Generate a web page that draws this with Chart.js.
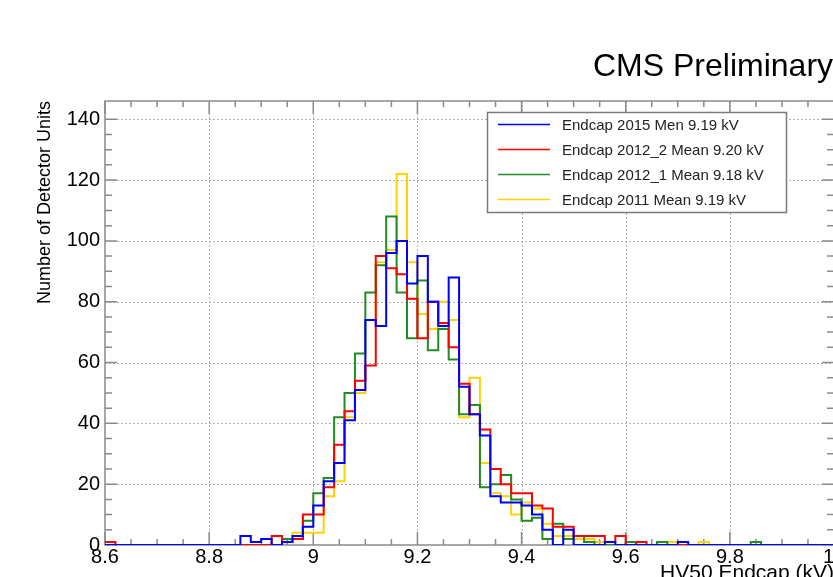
<!DOCTYPE html>
<html>
<head>
<meta charset="utf-8">
<title>HV50 Endcap</title>
<script src="https://cdn.jsdelivr.net/npm/chart.js@4.4.1/dist/chart.umd.min.js"></script>
<style>
    html, body { margin: 0; padding: 0; background: #fff; overflow: hidden; }
    #wrap { width: 833px; height: 577px; overflow: hidden; }
</style>
</head>
<body>
<div id="wrap"><canvas id="hvChart" width="900" height="600"></canvas></div>
<script>
// Binning of the histogram (kV)
const binStart = 8.6;
const binWidth = 0.02;
const binCount = 70;

// Series labels and colours
const seriesLabels = [
    'Endcap 2015 Men 9.19 kV',
    'Endcap 2012_2 Mean 9.20 kV',
    'Endcap 2012_1 Mean 9.18 kV',
    'Endcap 2011 Mean 9.19 kV'
];
const seriesColors = ['#0000ff', '#ff0000', '#228b22', '#ffd200'];

// Counts per bin, 8.60 ... 9.98
const endcap2015 = [
    0, 0, 0, 0, 0, 0, 0, 0, 0, 0, 0, 0, 0, 3, 1, 2, 0, 1, 3, 6,
    13, 21, 27, 41, 51, 74, 72, 96, 100, 86, 95, 80, 72, 88, 52, 43, 36, 16, 14, 14,
    13, 10, 5, 0, 5, 0, 0, 0, 1, 0, 0, 0, 0, 0, 0, 1, 0, 0, 0, 0,
    0, 0, 0, 0, 0, 0, 0, 0, 0, 0
];
const endcap2012b = [
    1, 0, 0, 0, 0, 0, 0, 0, 0, 0, 0, 0, 0, 0, 0, 0, 3, 1, 2, 10,
    10, 19, 33, 44, 54, 59, 95, 91, 89, 81, 68, 80, 73, 65, 53, 43, 38, 25, 20, 17,
    17, 13, 12, 6, 6, 3, 3, 3, 1, 3, 0, 1, 0, 0, 0, 0, 0, 0, 0, 0,
    0, 0, 0, 0, 0, 0, 0, 0, 0, 0
];
const endcap2012a = [
    0, 0, 0, 0, 0, 0, 0, 0, 0, 0, 0, 0, 0, 0, 0, 0, 0, 2, 2, 8,
    17, 22, 42, 50, 63, 83, 92, 108, 83, 68, 87, 64, 71, 61, 43, 46, 19, 20, 23, 15,
    8, 9, 2, 7, 2, 3, 1, 0, 0, 0, 1, 0, 0, 1, 0, 0, 0, 0, 0, 0,
    0, 0, 1, 0, 0, 0, 0, 0, 0, 0
];
const endcap2011 = [
    0, 0, 0, 0, 0, 0, 0, 0, 0, 0, 0, 0, 0, 0, 0, 0, 0, 2, 4, 4,
    4, 16, 21, 42, 50, 74, 93, 97, 122, 93, 76, 71, 80, 74, 42, 55, 27, 17, 16, 10,
    14, 12, 7, 3, 3, 2, 2, 1, 0, 0, 0, 0, 0, 0, 1, 0, 0, 1, 0, 0,
    0, 0, 0, 0, 0, 0, 0, 0, 0, 0
];
const seriesValues = [endcap2015, endcap2012b, endcap2012a, endcap2011];

// Axis ranges and labelled ticks
const xMin = 8.6, xMax = 10.0;
const yMin = 0, yMax = 146;
const xMajor = 0.2, xMinor = 0.05;
const yMajor = 20, yMinor = 5;

const FONT = '"Liberation Sans", Arial, Helvetica, sans-serif';

// Turn bin contents into step points (left edge of each bin + closing edge)
function histPoints(values) {
    const pts = values.map((v, i) => ({ x: +(binStart + i * binWidth).toFixed(2), y: v }));
    pts.push({ x: +(binStart + binCount * binWidth).toFixed(2), y: values[values.length - 1] });
    return pts;
}

function isMultiple(v, step) {
    const r = v / step;
    return Math.abs(r - Math.round(r)) < 1e-6;
}

// ROOT-like frame: dotted grid, gray border and inside ticks on all sides
const rootFrame = {
    id: 'rootFrame',
    beforeDatasetsDraw(chart) {
        const { ctx, chartArea: a, scales: { x, y } } = chart;
        ctx.save();

        // dotted grid at labelled values
        ctx.strokeStyle = '#b0b0b0';
        ctx.lineWidth = 1;
        ctx.setLineDash([2, 2]);
        x.ticks.forEach(t => {
            if (!isMultiple(t.value, xMajor) || t.value <= xMin || t.value >= xMax) return;
            const px = Math.round(x.getPixelForValue(t.value)) + 0.5;
            ctx.beginPath(); ctx.moveTo(px, a.top); ctx.lineTo(px, a.bottom); ctx.stroke();
        });
        y.ticks.forEach(t => {
            if (!isMultiple(t.value, yMajor) || t.value <= yMin) return;
            const py = Math.round(y.getPixelForValue(t.value)) + 0.5;
            ctx.beginPath(); ctx.moveTo(a.left, py); ctx.lineTo(a.right, py); ctx.stroke();
        });
        ctx.setLineDash([]);

        // frame
        ctx.strokeStyle = '#8a8a8a';
        ctx.lineWidth = 1.5;
        ctx.strokeRect(a.left, a.top, a.right - a.left, a.bottom - a.top);

        // tick marks pointing into the frame
        x.ticks.forEach(t => {
            if (!isMultiple(t.value, xMinor)) return;
            const px = x.getPixelForValue(t.value);
            const len = isMultiple(t.value, xMajor) ? 13 : 6;
            ctx.beginPath();
            ctx.moveTo(px, a.bottom); ctx.lineTo(px, a.bottom - len);
            ctx.moveTo(px, a.top); ctx.lineTo(px, a.top + len);
            ctx.stroke();
        });
        y.ticks.forEach(t => {
            if (!isMultiple(t.value, yMinor)) return;
            const py = y.getPixelForValue(t.value);
            const len = isMultiple(t.value, yMajor) ? 12 : 7;
            ctx.beginPath();
            ctx.moveTo(a.left, py); ctx.lineTo(a.left + len, py);
            ctx.moveTo(a.right, py); ctx.lineTo(a.right - len, py);
            ctx.stroke();
        });
        ctx.restore();
    },
    afterDatasetsDraw(chart) {
        const ctx = chart.ctx;
        ctx.save();

        // legend box
        ctx.fillStyle = '#ffffff';
        ctx.fillRect(487, 112, 300, 101);
        ctx.strokeStyle = '#7a7a7a';
        ctx.lineWidth = 1.5;
        ctx.strokeRect(487.5, 112.5, 299, 100);
        ctx.font = '15px ' + FONT;
        ctx.textBaseline = 'middle';
        ctx.textAlign = 'left';
        chart.data.datasets.forEach((ds, i) => {
            const ly = 124.5 + i * 25;
            ctx.strokeStyle = ds.borderColor;
            ctx.lineWidth = 1.5;
            ctx.beginPath(); ctx.moveTo(498, ly); ctx.lineTo(550, ly); ctx.stroke();
            ctx.fillStyle = '#222';
            ctx.fillText(ds.label, 562, ly + 1);
        });

        // header text
        ctx.fillStyle = '#000';
        ctx.font = '32px ' + FONT;
        ctx.textBaseline = 'alphabetic';
        ctx.fillText('CMS Preliminary', 593, 76);
        ctx.restore();
    }
};

document.addEventListener('DOMContentLoaded', function() {
    const ctx = document.getElementById('hvChart').getContext('2d');

    const datasets = seriesValues.map((vals, i) => ({
        label: seriesLabels[i],
        data: histPoints(vals),
        borderColor: seriesColors[i],
        backgroundColor: seriesColors[i],
        borderWidth: 2,
        stepped: true,
        pointRadius: 0,
        fill: false,
        tension: 0
    }));

    new Chart(ctx, {
        type: 'line',
        data: { datasets: datasets },
        options: {
            responsive: false,
            animation: false,
            devicePixelRatio: 1,
            layout: { padding: { left: 0, top: 101, right: 66, bottom: 0 } },
            plugins: {
                legend: { display: false },
                tooltip: { enabled: false }
            },
            scales: {
                x: {
                    type: 'linear',
                    min: xMin,
                    max: xMax,
                    afterFit(scale) { scale.height = 55; },
                    grid: { display: false, drawTicks: false },
                    border: { display: false },
                    ticks: {
                        stepSize: xMinor,
                        autoSkip: false,
                        maxRotation: 0,
                        padding: 0,
                        color: '#000',
                        font: { family: FONT, size: 20 },
                        callback: v => isMultiple(v, xMajor) ? String(+v.toFixed(1)) : ''
                    },
                    title: {
                        display: true,
                        text: 'HV50 Endcap (kV)',
                        align: 'end',
                        color: '#000',
                        font: { family: FONT, size: 21 },
                        padding: { top: 0, bottom: 14 }
                    }
                },
                y: {
                    min: yMin,
                    max: yMax,
                    afterFit(scale) { scale.width = 105; },
                    grid: { display: false, drawTicks: false },
                    border: { display: false },
                    ticks: {
                        stepSize: yMinor,
                        autoSkip: false,
                        padding: 5,
                        color: '#000',
                        font: { family: FONT, size: 20 },
                        callback: v => isMultiple(v, yMajor) ? String(v) : ''
                    },
                    title: {
                        display: true,
                        text: 'Number of Detector Units',
                        align: 'end',
                        color: '#000',
                        font: { family: FONT, size: 18 },
                        padding: { top: 34, bottom: 0 }
                    }
                }
            }
        },
        plugins: [rootFrame]
    });
});
</script>
</body>
</html>
